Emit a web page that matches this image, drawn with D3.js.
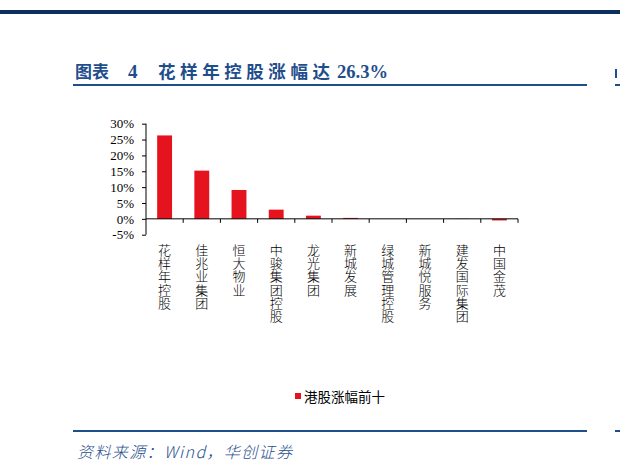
<!DOCTYPE html>
<html><head><meta charset="utf-8">
<script src="https://cdn.jsdelivr.net/npm/d3@7/dist/d3.min.js"></script>
<style>html,body{margin:0;padding:0;background:#fff;}svg{display:block;}</style>
</head><body>
<script>
const categories = ["花样年控股","佳兆业集团","恒大物业","中骏集团控股","龙光集团","新城发展","绿城管理控股","新城悦服务","建发国际集团","中国金茂"];
const values = [26.3, 15.2, 9.1, 2.9, 1.0, 0.3, 0, 0, 0.05, -0.5];
const yTicks = [-5, 0, 5, 10, 15, 20, 25, 30];
const seriesName = "港股涨幅前十";
const titleParts = ["图表", "4", "花样年控股涨幅达", "26.3%"];
const sourceText = "资料来源：Wind，华创证券";

const W = 620, H = 472;
const svg = d3.select("body").append("svg").attr("width", W).attr("height", H);
const blue = "#1f4e8c";
const red = "#e5131d";

// header bar
svg.append("rect").attr("x",0).attr("y",10).attr("width",W).attr("height",4).attr("fill","#0b2f5e");
// title
const cjk = "'Noto Sans CJK SC', sans-serif";
const serif = "'Liberation Serif', 'Times New Roman', serif";
svg.append("text").attr("x",75).attr("y",78).attr("font-family",cjk).attr("font-weight",700)
  .attr("font-size",17).attr("fill",blue).attr("textLength",34).attr("lengthAdjust","spacing").text(titleParts[0]);
svg.append("text").attr("x",128).attr("y",78).attr("font-family",serif).attr("font-weight",700)
  .attr("font-size",19).attr("fill",blue).text(titleParts[1]);
svg.append("text").attr("x",158).attr("y",78).attr("font-family",cjk).attr("font-weight",700)
  .attr("font-size",17.5).attr("fill",blue).attr("textLength",172).attr("lengthAdjust","spacing").text(titleParts[2]);
svg.append("text").attr("x",337).attr("y",78).attr("font-family",serif).attr("font-weight",700)
  .attr("font-size",19).attr("fill",blue).attr("textLength",51).attr("lengthAdjust","spacingAndGlyphs").text(titleParts[3]);
svg.append("rect").attr("x",73).attr("y",84).attr("width",514).attr("height",2).attr("fill",blue);
// right edge fragments of neighbour chart
svg.append("rect").attr("x",615).attr("y",84).attr("width",5).attr("height",2).attr("fill",blue);
svg.append("rect").attr("x",615).attr("y",69).attr("width",2).attr("height",9).attr("fill",blue);
svg.append("rect").attr("x",615).attr("y",430).attr("width",5).attr("height",2).attr("fill",blue);

// chart
const x = d3.scaleBand().domain(categories).range([146, 518]).paddingInner(0.6).paddingOuter(0.3);
const y = d3.scaleLinear().domain([-5, 30]).range([234.7, 123.7]);

svg.append("g").selectAll("rect").data(values).join("rect")
  .attr("x",(d,i)=>x(categories[i]))
  .attr("width",x.bandwidth())
  .attr("y",d=>y(Math.max(0,d)))
  .attr("height",d=>Math.abs(y(d)-y(0)))
  .attr("fill",red);

// y axis
const yAxis = svg.append("g").attr("transform","translate(146,0)")
  .call(d3.axisLeft(y).tickValues(yTicks).tickSize(4).tickPadding(8).tickFormat(d=>d+"%"));
yAxis.attr("font-family",serif).attr("font-size",13);
yAxis.select(".domain").attr("stroke","#000").attr("d","M0,"+y(30)+"V"+y(-5));
yAxis.selectAll(".tick line").attr("stroke","#000");
yAxis.selectAll("text").style("font-family",serif).style("font-size","13px").attr("fill","#000");

// x axis at zero
const step = x.step();
const bounds = d3.range(categories.length+1).map(i=>146 + i*step);
svg.append("line").attr("x1",146).attr("x2",518).attr("y1",y(0)).attr("y2",y(0)).attr("stroke","#000");
svg.append("g").selectAll("line").data(bounds.slice(1)).join("line")
  .attr("x1",d=>d).attr("x2",d=>d).attr("y1",y(0)).attr("y2",y(0)+4).attr("stroke","#000");

// vertical category labels
svg.append("g").selectAll("text").data(categories).join("text")
  .attr("x",d=>x(d) + x.bandwidth()/2)
  .attr("y",243.5)
  .style("writing-mode","vertical-rl")
  .style("letter-spacing","0.2px")
  .attr("font-family",cjk).attr("font-weight",300)
  .attr("font-size",13).attr("fill","#000").text(d=>d);

// legend
svg.append("rect").attr("x",295).attr("y",393).attr("width",6).attr("height",6).attr("fill",red);
svg.append("text").attr("x",304).attr("y",397).attr("dy","0.36em").attr("font-family",cjk)
  .attr("font-size",13.5).attr("fill","#000").attr("textLength",81).attr("lengthAdjust","spacing").text(seriesName);

// bottom rule and source
svg.append("rect").attr("x",73).attr("y",430).attr("width",514).attr("height",2).attr("fill",blue);
svg.append("text").attr("x",77).attr("y",458).attr("font-family","'Noto Sans CJK SC', serif")
  .attr("font-style","italic").attr("font-weight",300).attr("font-size",16).attr("fill",blue)
  .attr("textLength",215).attr("lengthAdjust","spacing").text(sourceText);
</script>
</body></html>
